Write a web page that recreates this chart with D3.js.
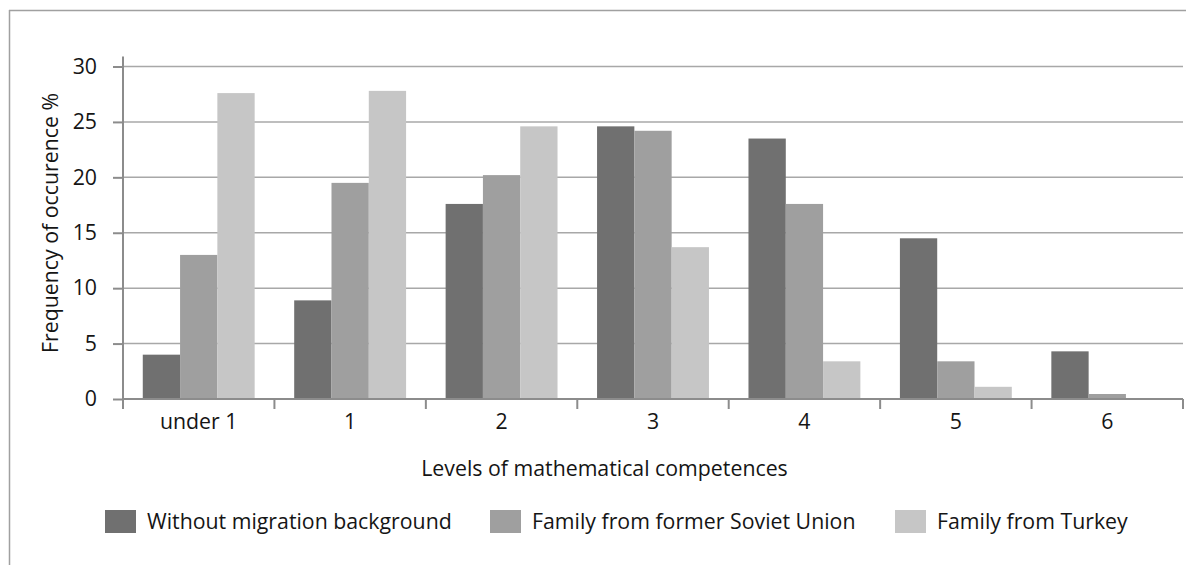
<!DOCTYPE html>
<html><head><meta charset="utf-8">
<script src="https://cdn.jsdelivr.net/npm/d3@7/dist/d3.min.js"></script>
<style>
body{margin:0;background:#fff;}
text{font-family:"Open Sans",sans-serif;fill:#151515;}
</style></head>
<body><svg id="c" width="1186" height="565"></svg>
<script>
const categories = ["under 1","1","2","3","4","5","6"];
const seriesNames = ["Without migration background","Family from former Soviet Union","Family from Turkey"];
const withoutMigration = [4.0, 8.9, 17.6, 24.6, 23.5, 14.5, 4.3];
const formerSovietUnion = [13.0, 19.5, 20.2, 24.2, 17.6, 3.4, 0.45];
const turkey = [27.6, 27.8, 24.6, 13.7, 3.4, 1.1, 0];
const yTicks = [0,5,10,15,20,25,30];
const colors = ["#707070","#9f9f9f","#c6c6c6"];

(function(){
const FS = 21.3;
const series = [withoutMigration, formerSovietUnion, turkey];
const svg = d3.select("#c");
const pL = 123, pR = 1183, pT = 66.5, pB = 399;

svg.append("line").attr("x1",9).attr("x2",1186).attr("y1",10.5).attr("y2",10.5).attr("stroke","#a0a0a0").attr("stroke-width",1.5);
svg.append("line").attr("x1",9.5).attr("x2",9.5).attr("y1",10).attr("y2",565).attr("stroke","#a0a0a0").attr("stroke-width",1.5);

const x = d3.scaleBand().domain(categories).range([pL,pR]).paddingInner(0).paddingOuter(0);
const y = d3.scaleLinear().domain([0,30]).range([pB,pT]);
const inner = d3.scaleBand().domain([0,1,2]).range([0,x.bandwidth()]).paddingInner(0).paddingOuter(0.53);

svg.append("g").selectAll("line").data(yTicks.filter(d=>d>0)).join("line")
  .attr("x1",pL).attr("x2",pR).attr("y1",d=>y(d)).attr("y2",d=>y(d))
  .attr("stroke","#a8a8a8").attr("stroke-width",1.5);

const g = svg.append("g");
series.forEach((s,si)=>{
  g.selectAll(null).data(s.map((v,i)=>({c:categories[i],v}))).join("rect")
    .attr("x",d=>x(d.c)+inner(si)).attr("width",inner.bandwidth())
    .attr("y",d=>y(d.v)).attr("height",d=>pB-y(d.v))
    .attr("fill",colors[si]);
});

const yAxis = svg.append("g").attr("transform",`translate(${pL},0)`)
  .call(d3.axisLeft(y).tickValues(yTicks).tickSize(10).tickPadding(16));
yAxis.select(".domain").attr("stroke","#8c8c8c").attr("stroke-width",2).attr("d",`M0,${pT-10}V${pB+10}`);
yAxis.selectAll(".tick line").attr("stroke","#8c8c8c").attr("stroke-width",2);
yAxis.selectAll("text").attr("font-size",FS).attr("font-family","Open Sans").attr("fill","#151515");

const xAxis = svg.append("g").attr("transform",`translate(0,${pB})`)
  .call(d3.axisBottom(x).tickSize(0).tickPadding(15));
xAxis.select(".domain").attr("stroke","#8c8c8c").attr("stroke-width",2).attr("d",`M${pL},0H${pR}`);
xAxis.selectAll("text").attr("font-size",FS).attr("font-family","Open Sans").attr("fill","#151515");
const bounds = categories.map(c=>x(c)).concat([pR]);
svg.append("g").selectAll("line").data(bounds).join("line")
  .attr("x1",d=>d).attr("x2",d=>d).attr("y1",pB).attr("y2",pB+10)
  .attr("stroke","#8c8c8c").attr("stroke-width",2);

svg.append("text").attr("x",604.5).attr("y",476).attr("text-anchor","middle").attr("font-size",FS)
  .text("Levels of mathematical competences");
svg.append("text").attr("transform",`translate(58,223) rotate(-90)`).attr("text-anchor","middle").attr("font-size",FS)
  .text("Frequency of occurence %");

const legX = [105, 490, 895];
const leg = svg.append("g");
seriesNames.forEach((n,i)=>{
  leg.append("rect").attr("x",legX[i]).attr("y",510).attr("width",31).attr("height",23).attr("fill",colors[i]);
  leg.append("text").attr("x",legX[i]+42).attr("y",529).attr("font-size",FS).text(n);
});
})();
</script></body></html>
